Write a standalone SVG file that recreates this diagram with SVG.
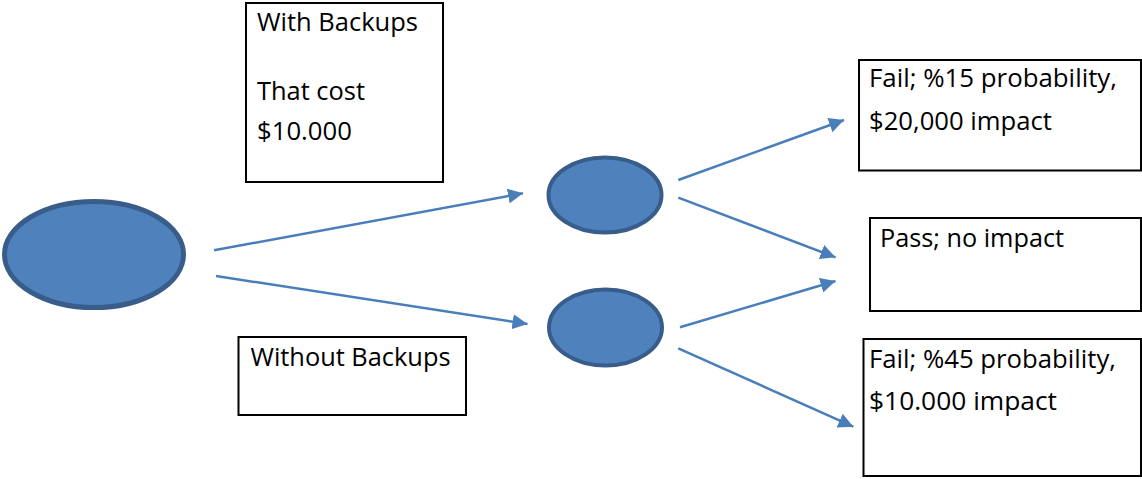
<svg xmlns="http://www.w3.org/2000/svg" width="1142" height="479" viewBox="0 0 1142 479">
  <style>
    .node-shape { fill: #4F81BD; stroke: #385D8A; }
    .box { fill: #FFFFFF; stroke: #000000; stroke-width: 2; }
    .label { font-family: "Open Sans", "Liberation Sans", sans-serif; font-size: 25px; fill: #000000; }
    .edge { stroke: #4A7EBB; stroke-width: 2.5; fill: none; marker-end: url(#arrow); }
  </style>
  <defs>
    <marker id="arrow" markerUnits="userSpaceOnUse" markerWidth="16" markerHeight="15" refX="15" refY="7.5" orient="auto">
      <path d="M0,0 L15,7.5 L0,15 Z" fill="#4A7EBB"/>
    </marker>
  </defs>
  <rect width="1142" height="479" fill="#FFFFFF"/>

  <!-- decision root -->
  <g id="root">
    <ellipse class="node-shape" cx="94" cy="254.5" rx="89.5" ry="53" stroke-width="5"/>
  </g>

  <!-- chance nodes -->
  <g id="chance-backups">
    <ellipse class="node-shape" cx="605" cy="195" rx="56.5" ry="37.5" stroke-width="4"/>
  </g>
  <g id="chance-no-backups">
    <ellipse class="node-shape" cx="605.5" cy="327.5" rx="56.5" ry="38" stroke-width="4"/>
  </g>

  <!-- branch labels -->
  <g id="label-with-backups">
    <rect class="box" x="246" y="3" width="197" height="179"/>
    <text class="label" x="257" y="31" textLength="161" lengthAdjust="spacingAndGlyphs">With Backups</text>
    <text class="label" x="257" y="100" textLength="108" lengthAdjust="spacingAndGlyphs">That cost</text>
    <text class="label" x="257" y="140" textLength="95" lengthAdjust="spacingAndGlyphs">$10.000</text>
  </g>
  <g id="label-without-backups">
    <rect class="box" x="238.5" y="337" width="227.5" height="78"/>
    <text class="label" x="250.5" y="366" textLength="200" lengthAdjust="spacingAndGlyphs">Without Backups</text>
  </g>

  <!-- outcomes -->
  <g id="outcome-fail-15">
    <rect class="box" x="859" y="60" width="282" height="110.5"/>
    <text class="label" x="869" y="87" textLength="248" lengthAdjust="spacingAndGlyphs">Fail; %15 probability,</text>
    <text class="label" x="869" y="130" textLength="183" lengthAdjust="spacingAndGlyphs">$20,000 impact</text>
  </g>
  <g id="outcome-pass">
    <rect class="box" x="870" y="218" width="271" height="93"/>
    <text class="label" x="880" y="247" textLength="184" lengthAdjust="spacingAndGlyphs">Pass; no impact</text>
  </g>
  <g id="outcome-fail-45">
    <rect class="box" x="863.5" y="339" width="277.5" height="137"/>
    <text class="label" x="869" y="368" textLength="247" lengthAdjust="spacingAndGlyphs">Fail; %45 probability,</text>
    <text class="label" x="869" y="410" textLength="188" lengthAdjust="spacingAndGlyphs">$10.000 impact</text>
  </g>

  <!-- connectors -->
  <g id="connectors">
    <line class="edge" x1="214" y1="250.3" x2="523" y2="193.3"/>
    <line class="edge" x1="216" y1="276" x2="527.5" y2="324"/>
    <line class="edge" x1="678.3" y1="180" x2="844" y2="120"/>
    <line class="edge" x1="678.3" y1="197.7" x2="835.5" y2="257.3"/>
    <line class="edge" x1="680" y1="327.3" x2="835.5" y2="281"/>
    <line class="edge" x1="678.3" y1="348.3" x2="853.3" y2="426.7"/>
  </g>
</svg>
